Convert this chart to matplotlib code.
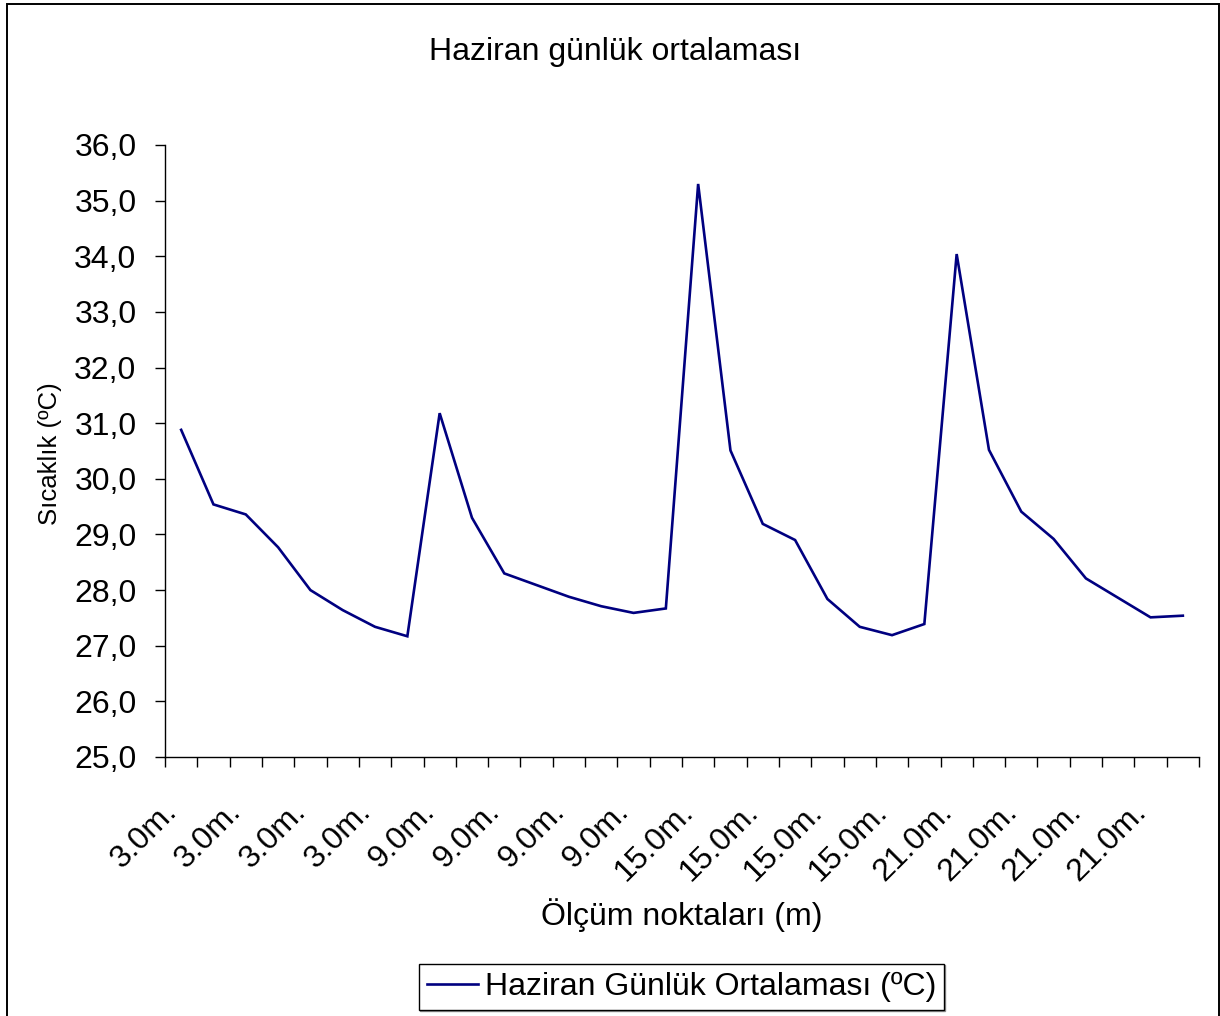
import matplotlib
matplotlib.use("Agg")
import matplotlib.pyplot as plt
from matplotlib.patches import Rectangle
from matplotlib.transforms import ScaledTranslation

plt.rcParams['font.family'] = ['Liberation Sans', 'DejaVu Sans']

# ---- data ----
categories = (["3.0m."] * 8) + (["9.0m."] * 8) + (["15.0m."] * 8) + (["21.0m."] * 8)
temperatures = [30.88, 29.54, 29.36, 28.77, 28.00, 27.64, 27.34, 27.17,
                31.18, 29.30, 28.30, 28.09, 27.88, 27.71, 27.59, 27.67,
                35.30, 30.51, 29.19, 28.90, 27.84, 27.34, 27.19, 27.39,
                34.04, 30.52, 29.41, 28.92, 28.21, 27.86, 27.51, 27.54]
y_ticks = [25, 26, 27, 28, 29, 30, 31, 32, 33, 34, 35, 36]
y_tick_labels = ["25,0", "26,0", "27,0", "28,0", "29,0", "30,0",
                 "31,0", "32,0", "33,0", "34,0", "35,0", "36,0"]
title = "Haziran günlük ortalaması"
x_label = "Ölçüm noktaları (m)"
y_label = "Sıcaklık (ºC)"
series_name = "Haziran Günlük Ortalaması (ºC)"

W, H = 1220, 1016
fig = plt.figure(figsize=(W / 100, H / 100), dpi=100)
fig.patch.set_facecolor('white')

# outer chart border
fig.patches.append(Rectangle((7 / W, -0.02), (1219 - 7) / W, 1.02 - 4 / H,
                             transform=fig.transFigure, fill=False,
                             edgecolor='black', linewidth=1.4, zorder=0))

left, right, top, bottom = 165, 1199, 145, 757
ax = fig.add_axes([left / W, 1 - bottom / H, (right - left) / W, (bottom - top) / H])
ax.set_facecolor('none')

n = len(temperatures)
xs = list(range(n))
line, = ax.plot(xs, temperatures, color='#000080', linewidth=1.9,
                solid_joinstyle='miter', label=series_name)

ax.set_xlim(-0.5, n - 0.5)
ax.set_ylim(25, 36)

for s in ['top', 'right']:
    ax.spines[s].set_visible(False)
for s in ['left', 'bottom']:
    ax.spines[s].set_color('black')
    ax.spines[s].set_linewidth(1.0)

FS = 23
ax.set_yticks(y_ticks)
ax.set_yticklabels(y_tick_labels, fontsize=FS)
ax.tick_params(axis='y', direction='out', length=7.5, width=1.0, pad=13)

# category boundary ticks (major, no labels) and category labels (minor)
ax.set_xticks([i - 0.5 for i in range(n + 1)])
ax.set_xticklabels([])
label_pos = list(range(0, n, 2))
ax.set_xticks(label_pos, minor=True)
ax.set_xticklabels([categories[i] for i in label_pos], minor=True, fontsize=FS,
                   rotation=45, ha='right', va='center', rotation_mode='anchor')
ax.tick_params(axis='x', which='major', direction='out', length=7.5, width=1.0)
ax.tick_params(axis='x', which='minor', length=0, pad=36)
offset = ScaledTranslation(-9 / 100, 0, fig.dpi_scale_trans)
for lab in ax.get_xticklabels(minor=True):
    lab.set_transform(lab.get_transform() + offset)

fig.text(615 / W, 1 - 52 / H, title, ha='center', va='center', fontsize=FS)
fig.text(682 / W, 1 - 915 / H, x_label, ha='center', va='center', fontsize=FS)
fig.text(50 / W, 1 - 454 / H, y_label, ha='center', va='center',
         rotation=90, fontsize=18.5)

leg = fig.legend(handles=[line], loc='center',
                 bbox_to_anchor=(681.5 / W, 1 - 987 / H),
                 fontsize=FS, frameon=True, fancybox=False,
                 handlelength=1.6, handletextpad=0.2, borderpad=0.25,
                 borderaxespad=0,
                 shadow={'ox': 1, 'oy': -1, 'color': '#909090', 'alpha': 1.0})
leg.get_frame().set_edgecolor('black')
leg.get_frame().set_linewidth(1.0)

fig.savefig('out.png', dpi=100, facecolor='white')
